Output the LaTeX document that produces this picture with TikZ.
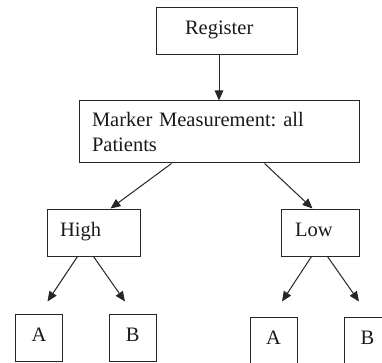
\documentclass[tikz,border=0pt]{standalone}
\usepackage{fontspec}
\setmainfont{Liberation Serif}
\usetikzlibrary{arrows.meta}
\frenchspacing
\begin{document}
\begin{tikzpicture}[x=1pt,y=-1pt,
  box/.style={draw=black!85, line width=1pt, inner sep=0pt, font=\fontsize{20.5}{25}\selectfont\frenchspacing, text=black!90},
  onel/.style={text height=14pt, text depth=7pt},
  arr/.style={draw=black!85, line width=1pt, -{Triangle[length=10pt,width=8.5pt]}}]
\useasboundingbox (0,0) rectangle (382,363);
\clip (0,0) rectangle (382,363);
\node[box, onel, minimum width=140.5pt, minimum height=47pt, text width=83.5pt, align=left] (reg) at (226.75,31.5) {Register};
\node[box, minimum width=280pt, minimum height=62pt, text width=254pt, align=left] (mk) at (219,132) {Marker Measurement: all\\Patients};
\node[box, onel, minimum width=93pt, minimum height=47pt, text width=67pt, align=left] (hi) at (93.5,232.5) {High};
\node[box, onel, minimum width=78pt, minimum height=47pt, text width=50pt, align=left] (lo) at (320,232.5) {Low};
\node[box, onel, minimum width=47pt, minimum height=47.5pt] (a1) at (39,337.75) {A};
\node[box, onel, minimum width=46.5pt, minimum height=47.5pt] (b1) at (132.75,337.75) {B};
\node[box, onel, minimum width=47pt, minimum height=47pt] (a2) at (273.5,340.5) {A};
\node[box, onel, minimum width=47pt, minimum height=47pt] (b2) at (367.5,340.5) {B};
\coordinate (t1) at ([xshift=8.5pt,yshift=12pt]a1.north);
\coordinate (t2) at ([xshift=-7.75pt,yshift=12pt]b1.north);
\coordinate (t3) at ([xshift=8.5pt,yshift=15pt]a2.north);
\coordinate (t4) at ([xshift=-8.5pt,yshift=15pt]b2.north);
\draw[arr] ([xshift=-7.75pt]reg.south) -- ([xshift=0pt]mk.north);
\draw[arr] ([xshift=93pt]mk.south west) -- ([xshift=64pt]hi.north west);
\draw[arr] ([xshift=186pt]mk.south west) -- ([xshift=32pt]lo.north west);
\draw[arr] ([xshift=31pt]hi.south west) -- (t1);
\draw[arr] ([xshift=47pt]hi.south west) -- (t2);
\draw[arr] ([xshift=31pt]lo.south west) -- (t3);
\draw[arr] ([xshift=47pt]lo.south west) -- (t4);
\end{tikzpicture}
\end{document}
